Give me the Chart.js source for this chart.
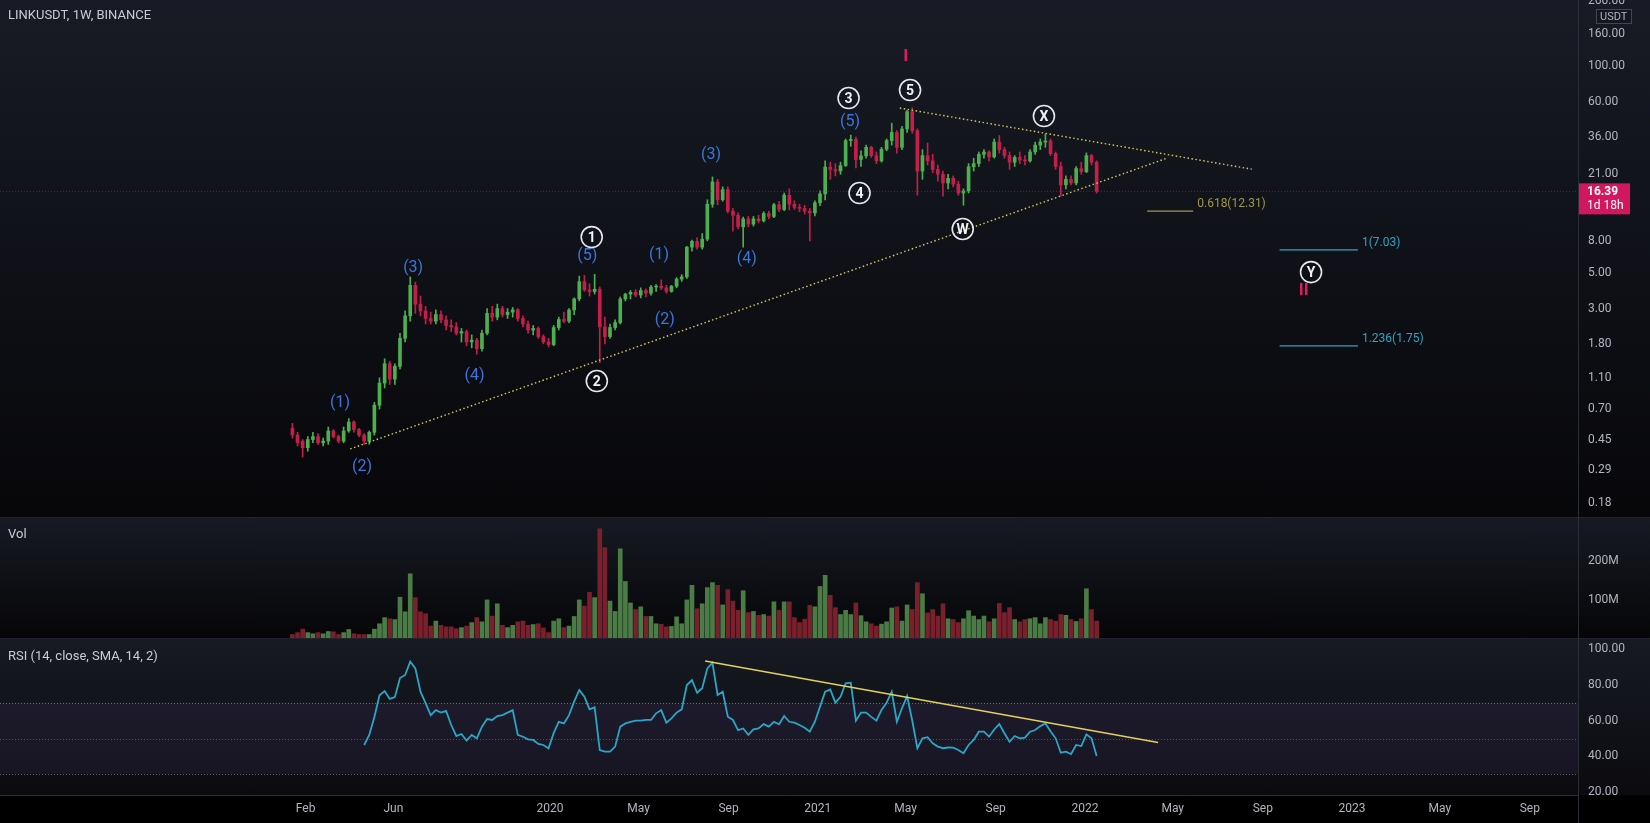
<!DOCTYPE html>
<html>
<head>
<meta charset="utf-8">
<title>LINKUSDT, 1W, BINANCE</title>
<script src="https://cdn.jsdelivr.net/npm/chart.js@4.4.1/dist/chart.umd.min.js"></script>
<style>
  html, body { margin: 0; padding: 0; background: #000; }
  #chart { position: relative; width: 1650px; height: 823px; overflow: hidden; background: #22252e; }
  .pane { position: absolute; left: 0; width: 1650px; }
  #pricePane { top: 0; height: 517px; background: linear-gradient(#181b25, #07070a); }
  #volPane { top: 518px; height: 120px; background: linear-gradient(#171a23, #060608); }
  #rsiPane { top: 639px; height: 184px; background: linear-gradient(#171a23 0, #0b0b0f 156px, #000 156px); }
  #axisLine { position: absolute; left: 1578px; top: 0; width: 1px; height: 823px; background: #2a2e39; }
  canvas { display: block; }
</style>
</head>
<body>
<div id="chart">
  <div class="pane" id="pricePane"><canvas id="priceCanvas" width="1650" height="517"></canvas></div>
  <div class="pane" id="volPane"><canvas id="volCanvas" width="1650" height="120"></canvas></div>
  <div class="pane" id="rsiPane"><canvas id="rsiCanvas" width="1650" height="184"></canvas></div>
  <div id="axisLine"></div>
</div>
<script>
/* ---------- data (weekly candles from the week of 2019-01-14) ---------- */
const firstWeek = '2019-01-14';

const opens = [
  .53,.48,.44,.40,.45,.47,.43,.44,.51,.47, .44,.51,.58,.52,.48,.44,.50,.74,1.02,1.35,
  1.08,1.30,1.95,2.70,4.20,3.20,2.90,2.60,2.50,2.75, 2.55,2.35,2.30,2.10,2.15,1.85,1.90,1.68,2.10,2.80,
  2.65,3.00,2.75,2.85,2.95,2.60,2.40,2.20,2.25,2.00, 1.85,1.78,2.28,2.56,2.50,2.94,3.45,4.43,3.93,3.84,
  3.97,2.30,2.00,2.28,2.45,3.45,3.70,3.80,3.65,3.90, 3.75,4.10,4.15,4.05,3.85,4.15,4.60,4.75,7.30,7.95,
  7.30,8.20,13.6,18.8,14.5,16.8,12.3,11.6,9.80,11.0, 10.2,11.0,10.7,11.9,11.4,13.5,12.6,15.5,13.6,13.0,
  12.8,12.3,12.0,13.9,15.8,23.3,22.5,22.0,23.8,34.2, 34.8,26.0,27.4,31.0,27.5,25.5,30.2,34.2,38.5,31.0,
  40.5,52.0,39.5,22.0,27.5,25.5,22.5,21.0,18.5,19.8, 18.2,16.0,16.5,23.4,24.5,28.0,29.0,27.0,33.5,30.0,
  27.5,25.0,26.8,25.8,25.5,29.0,32.0,33.5,34.0,28.3, 23.5,18.0,19.5,18.5,22.8,21.8,27.5,25.0
];
const highs = [
  .57,.50,.45,.47,.50,.49,.46,.54,.52,.48, .54,.61,.59,.53,.49,.51,.77,1.10,1.45,1.40,
  1.35,2.10,2.90,4.75,4.40,3.60,3.10,2.85,2.95,2.90, 2.70,2.55,2.45,2.25,2.20,2.05,1.95,2.20,3.00,3.10,
  3.20,3.10,3.00,3.05,3.00,2.70,2.50,2.35,2.30,2.05, 1.95,2.35,2.65,2.85,3.00,3.50,4.80,4.85,4.30,4.93,
  4.10,2.65,2.40,2.55,3.55,3.75,3.90,3.95,4.05,4.00, 4.20,4.25,4.55,4.20,4.20,4.70,4.90,7.40,8.10,8.40,
  8.90,14.5,20.2,19.5,17.5,17.5,12.8,12.0,11.3,11.4, 11.4,11.6,12.2,12.3,13.8,14.2,16.0,17.0,14.3,13.6,
  13.4,12.8,14.3,16.5,25.5,25.0,24.5,25.0,35.0,37.0, 36.0,29.5,32.0,31.5,29.0,31.0,35.0,44.0,39.5,42.0,
  53.0,55.0,40.5,30.0,33.0,28.0,24.0,22.0,21.0,20.5, 19.0,17.0,24.5,26.5,29.0,30.0,29.5,35.0,36.8,31.0,
  29.0,27.5,29.0,27.5,30.0,33.5,35.0,37.6,35.0,29.0, 25.0,20.5,20.5,23.5,25.0,28.6,28.0,25.5
];
const lows = [
  .46,.41,.35,.38,.43,.42,.41,.42,.46,.43, .43,.50,.50,.47,.42,.42,.48,.70,.95,1.00,
  1.00,1.25,1.85,2.50,2.80,2.70,2.40,2.40,2.40,2.45, 2.20,2.15,2.05,1.85,1.75,1.70,1.55,1.62,2.05,2.50,
  2.55,2.65,2.60,2.65,2.50,2.30,2.10,2.05,1.95,1.80, 1.72,1.75,2.20,2.45,2.45,2.75,3.35,3.85,3.60,3.70,
  1.37,1.80,1.95,2.20,2.40,3.35,3.45,3.55,3.50,3.55, 3.65,3.85,3.95,3.75,3.80,4.05,4.45,4.65,6.90,7.10,
  7.10,8.00,13.0,13.5,14.2,12.0,9.20,9.50,7.30,9.80, 9.90,10.4,10.5,11.0,11.2,12.2,12.4,12.5,12.6,12.2,
  11.8,8.00,11.5,13.3,14.5,19.5,20.5,21.0,23.5,31.5, 23.0,23.5,26.5,26.8,24.5,25.0,29.5,32.0,28.5,30.0,
  38.5,38.0,15.5,19.5,24.0,21.5,19.0,15.3,17.0,17.5, 15.5,13.4,16.0,22.0,23.5,26.5,25.5,26.5,28.5,26.5,
  22.5,23.5,24.5,24.0,25.0,28.0,30.0,31.0,27.5,22.5, 15.3,17.0,18.0,18.0,21.0,21.5,24.0,16.0
];
const closes = [
  .48,.43,.40,.45,.47,.43,.44,.51,.47,.44, .51,.58,.52,.48,.44,.50,.74,1.02,1.35,1.08,
  1.30,1.95,2.70,4.20,3.20,2.90,2.60,2.50,2.75,2.55, 2.35,2.30,2.10,2.15,1.85,1.90,1.68,2.10,2.80,2.65,
  3.00,2.75,2.85,2.95,2.60,2.40,2.20,2.25,2.00,1.85, 1.78,2.28,2.56,2.50,2.94,3.45,4.43,3.93,3.84,3.97,
  2.30,2.00,2.28,2.45,3.45,3.70,3.80,3.65,3.90,3.75, 4.10,4.15,4.05,3.85,4.15,4.60,4.75,7.30,7.95,7.30,
  8.20,13.6,18.8,14.5,16.8,12.3,11.6,9.80,11.0,10.2, 11.0,10.7,11.9,11.4,13.5,12.6,15.5,13.6,13.0,12.8,
  12.3,12.0,13.9,15.8,23.3,22.5,22.0,23.8,34.2,34.8, 26.0,27.4,31.0,27.5,25.5,30.2,34.2,38.5,31.0,40.5,
  52.0,39.5,22.0,27.5,25.5,22.5,21.0,18.5,19.8,18.2, 16.0,16.5,23.4,24.5,28.0,29.0,27.0,33.5,30.0,27.5,
  25.0,26.8,25.8,25.5,29.0,32.0,33.5,34.0,28.3,23.5, 18.0,19.5,18.5,22.8,21.8,27.5,25.0,16.39
];
// weekly volume, millions of USDT
const volumes = [
  9,14,23,14,11,14,11,17,16,9, 14,22,11,9,9,9,23,37,53,50,
  48,106,68,167,105,68,63,31,44,33, 29,29,24,27,31,40,53,42,99,57,
  89,33,27,33,42,44,33,35,37,26, 14,44,50,27,31,56,99,83,119,105,
  284,235,96,69,232,147,91,74,81,56, 56,37,36,29,30,55,37,99,137,76,
  89,131,144,137,86,126,96,72,123,66, 69,59,61,57,94,72,94,94,53,40,
  49,85,81,134,163,111,79,61,72,61, 91,58,42,37,31,36,42,78,81,44,
  86,74,144,115,65,74,57,89,50,48, 40,50,71,57,48,57,42,50,90,66,
  79,48,42,48,50,53,37,53,48,44, 61,59,48,43,50,128,74,44
];
const rsiStartWeek = 14;
const rsiValues = [
  46.4,52,62,74,76.4,72,73,83.6,85.3,92.7, 89,76,69.7,63,65.8,64.4,65.3,57.5,51.4,52.5,
  48.8,52,50.1,56.6,60.8,60.3,62.5,63,64.4,65.8, 52,51,49.5,49.2,47,46.4,44.5,53,59.3,58.4,
  63,70.5,77,73.2,66.2,67.3,43.6,42.7,42.7,45.5, 56.6,58.4,59.3,59.9,59.9,60.3,60.3,64,65.8,58.8,
  61.2,64.4,66.2,79.7,82.5,75.4,77.9,89,92.1,74.2, 76,62.1,60.3,54.7,55.6,52,55.1,55.6,58,56.6,
  59.3,57.9,62.5,59.3,58.8,57.5,56,53.8,59.3,67.7, 76,77.3,69.9,73.2,80.7,81,59.9,64.4,64.4,62,
  59.9,65.8,69.9,76,59.3,66.8,73.6,60,44.6,50.1, 50.7,47.3,45.5,44.6,45,44.9,43.6,41.8,46.4,49.2,
  53.8,53.8,51,55,58,52.9,48.2,51.4,50.1,50.5, 53.8,54.7,56.9,58.4,54,50.1,42.1,42.7,41.4,46.4,
  45.8,52.3,50.1,40.3
];

const priceTicks = [260, 160, 100, 60, 36, 21, 8, 5, 3, 1.8, 1.1, 0.7, 0.45, 0.29, 0.18];
const volumeTicks = [100, 200];
const rsiTicks = [100, 80, 60, 40, 20];
const timeLabels = [
  ['2019-02-01', 'Feb'], ['2019-06-01', 'Jun'], ['2020-01-01', '2020'], ['2020-05-01', 'May'],
  ['2020-09-01', 'Sep'], ['2021-01-01', '2021'], ['2021-05-01', 'May'], ['2021-09-01', 'Sep'],
  ['2022-01-01', '2022'], ['2022-05-01', 'May'], ['2022-09-01', 'Sep'], ['2023-01-01', '2023'],
  ['2023-05-01', 'May'], ['2023-09-01', 'Sep']
];

// drawings: trend lines [date, value]
const supportLine = [['2019-04-03', 0.393], ['2022-04-23', 26.5]];
const resistanceLine = [['2021-04-23', 54.8], ['2022-08-17', 22.6]];
const rsiTrendLine = [['2020-07-31', 93.1], ['2022-04-11', 47.8]];

const fibLevels = [
  { from: '2022-03-27', to: '2022-05-29', price: 12.31, text: '0.618(12.31)', color: '#a0974a' },
  { from: '2022-09-24', to: '2023-01-09', price: 7.03, text: '1(7.03)', color: '#28a6c6' },
  { from: '2022-09-24', to: '2023-01-09', price: 1.75, text: '1.236(1.75)', color: '#28a6c6' }
];

// Elliott wave marks: [date, price, text, style]
const waveLabels = [
  ['2019-03-20', 0.764, '(1)', 'minor'],
  ['2019-04-19', 0.303, '(2)', 'minor'],
  ['2019-06-28', 5.40, '(3)', 'minor'],
  ['2019-09-20', 1.13, '(4)', 'minor'],
  ['2020-02-21', 6.43, '(5)', 'minor'],
  ['2020-02-27', 8.45, '1', 'circle'],
  ['2020-03-05', 1.05, '2', 'circle'],
  ['2020-05-29', 6.52, '(1)', 'minor'],
  ['2020-06-06', 2.54, '(2)', 'minor'],
  ['2020-08-08', 27.7, '(3)', 'minor'],
  ['2020-09-26', 6.15, '(4)', 'minor'],
  ['2021-02-14', 44.7, '(5)', 'minor'],
  ['2021-02-12', 63.3, '3', 'circle'],
  ['2021-02-27', 16.0, '4', 'circle'],
  ['2021-05-07', 71.1, '5', 'circle'],
  ['2021-05-01', 114.6, 'I', 'roman'],
  ['2021-07-18', 9.5, 'W', 'circle'],
  ['2021-11-06', 48.8, 'X', 'circle'],
  ['2022-11-06', 5.09, 'Y', 'circle'],
  ['2022-10-27', 3.87, 'II', 'roman']
];

/* ---------- helpers ---------- */
const EPOCH = Date.UTC(2020, 0, 1);
const dayOf = s => (Date.parse(s) - EPOCH) / 86400000;
const weekX = i => dayOf(firstWeek) + 7 * i;
const X_MIN = -751.6, X_MAX = 1404.8;   // visible time range, days from 2020-01-01

const UP = '#4caf50', DOWN = '#c41e4a';
const VOL_UP = '#4b7c45', VOL_DOWN = '#7a1f2c';
const FONT = "Roboto, 'Open Sans', sans-serif";
const lastClose = closes[closes.length - 1];
const isUp = closes.map((c, i) => c >= opens[i]);

Chart.defaults.font.family = FONT;
Chart.defaults.font.size = 12;
Chart.defaults.color = '#b2b5be';
Chart.defaults.animation = false;

function timeAxis(show) {
  return {
    type: 'linear', min: X_MIN, max: X_MAX, offset: false, display: show,
    grid: { display: false, drawTicks: false },
    border: { display: show, color: '#2a2e39' },
    afterBuildTicks: s => { s.ticks = timeLabels.map(t => ({ value: dayOf(t[0]) })); },
    ticks: { autoSkip: false, maxRotation: 0, padding: 7, color: '#b2b5be',
      callback: (v, i) => timeLabels[i][1] },
    afterFit: s => { s.height = show ? 28 : 0; s.paddingLeft = 0; s.paddingRight = 0; }
  };
}

function rightAxis(opts) {
  return Object.assign({
    position: 'right',
    grid: { display: false, drawTicks: false },
    border: { display: false },
    afterFit: s => { s.width = 72; s.paddingTop = 0; s.paddingBottom = 0; }
  }, opts);
}

function lineSet(points, color, dash, width) {
  return {
    type: 'line',
    data: points.map(p => ({ x: typeof p[0] === 'number' ? p[0] : dayOf(p[0]), y: p[1] })),
    borderColor: color, borderWidth: width || 1, borderDash: dash || [],
    pointRadius: 0, fill: false, order: 0
  };
}

/* ---------- price pane ---------- */
const pricePlugin = {
  id: 'priceOverlay',
  afterDatasetsDraw(chart) {
    const { ctx, scales: { x, y } } = chart;
    ctx.save();
    ctx.textAlign = 'left';
    ctx.textBaseline = 'middle';
    ctx.font = '12px ' + FONT;
    fibLevels.forEach(f => {
      ctx.fillStyle = f.color;
      ctx.fillText(f.text, x.getPixelForValue(dayOf(f.to)) + 4, y.getPixelForValue(f.price) - 7);
    });
    ctx.textAlign = 'center';
    waveLabels.forEach(([d, p, text, style]) => {
      const px = x.getPixelForValue(dayOf(d));
      const py = y.getPixelForValue(p);
      if (style === 'circle') {
        ctx.beginPath();
        ctx.arc(px, py, 10.5, 0, Math.PI * 2);
        ctx.lineWidth = 1.6;
        ctx.strokeStyle = '#e6e8ee';
        ctx.stroke();
        ctx.fillStyle = '#f0f2f5';
        ctx.font = 'bold 14px ' + FONT;
        ctx.fillText(text, px, py + 1);
      } else if (style === 'minor') {
        ctx.fillStyle = '#3a76dd';
        ctx.font = '16px ' + FONT;
        ctx.fillText(text, px, py);
      } else {
        ctx.fillStyle = '#e3195e';
        ctx.font = 'bold 17px ' + FONT;
        ctx.fillText(text, px, py);
      }
    });
    ctx.restore();
  },
  afterDraw(chart) {
    const { ctx, chartArea, scales: { y } } = chart;
    ctx.save();
    // title
    ctx.font = '13px ' + FONT;
    ctx.fillStyle = '#c9ccd4';
    ctx.textAlign = 'left';
    ctx.textBaseline = 'middle';
    ctx.fillText('LINKUSDT, 1W, BINANCE', 8, 16);
    // currency box
    ctx.fillStyle = '#131722';
    ctx.fillRect(1596.5, 9.5, 35, 14);
    ctx.strokeStyle = '#434651';
    ctx.lineWidth = 1;
    ctx.strokeRect(1596.5, 9.5, 35, 14);
    ctx.font = '11px ' + FONT;
    ctx.fillStyle = '#b2b5be';
    ctx.fillText('USDT', 1600, 17);
    // last price tag
    const py = y.getPixelForValue(lastClose);
    ctx.fillStyle = '#d3175f';
    ctx.fillRect(chartArea.right, py - 8, 52, 31);
    ctx.fillStyle = '#ffffff';
    ctx.font = 'bold 12px ' + FONT;
    ctx.fillText(lastClose.toFixed(2), chartArea.right + 9, py + 1);
    ctx.font = '12px ' + FONT;
    ctx.fillText('1d 18h', chartArea.right + 9, py + 15);
    ctx.restore();
  }
};

new Chart(document.getElementById('priceCanvas'), {
  type: 'bar',
  data: {
    datasets: [
      {
        data: highs.map((h, i) => ({ x: weekX(i), y: [lows[i], h] })),
        backgroundColor: isUp.map(u => u ? UP : DOWN),
        barThickness: 1, grouped: false, order: 3
      },
      {
        data: opens.map((o, i) => ({ x: weekX(i), y: [o, closes[i]] })),
        backgroundColor: isUp.map(u => u ? UP : DOWN),
        barThickness: 3, minBarLength: 1, grouped: false, order: 2
      },
      lineSet([[X_MIN, lastClose], [X_MAX, lastClose]], 'rgba(211,23,95,0.55)', [1, 2], 1),
      lineSet(supportLine, '#d8c95a', [1.5, 2.5], 1.4),
      lineSet(resistanceLine, '#d8c95a', [1.5, 2.5], 1.4),
      ...fibLevels.map(f => lineSet([[f.from, f.price], [f.to, f.price]], f.color, [], 1.2))
    ]
  },
  options: {
    responsive: false, devicePixelRatio: 1,
    layout: { padding: 0 },
    plugins: { legend: { display: false }, tooltip: { enabled: false } },
    scales: {
      x: timeAxis(false),
      y: rightAxis({
        type: 'logarithmic', min: 0.1466, max: 262,
        afterBuildTicks: s => { s.ticks = priceTicks.map(v => ({ value: v })); },
        ticks: { autoSkip: false, padding: 10, color: '#b2b5be', callback: v => Number(v).toFixed(2) }
      })
    }
  },
  plugins: [pricePlugin]
});

/* ---------- volume pane ---------- */
new Chart(document.getElementById('volCanvas'), {
  type: 'bar',
  data: {
    datasets: [{
      data: volumes.map((v, i) => ({ x: weekX(i), y: v })),
      backgroundColor: isUp.map(u => u ? VOL_UP : VOL_DOWN),
      barThickness: 4, grouped: false
    }]
  },
  options: {
    responsive: false, devicePixelRatio: 1,
    layout: { padding: 0 },
    plugins: { legend: { display: false }, tooltip: { enabled: false } },
    scales: {
      x: timeAxis(false),
      y: rightAxis({
        type: 'linear', min: 0, max: 312,
        afterBuildTicks: s => { s.ticks = volumeTicks.map(v => ({ value: v })); },
        ticks: { autoSkip: false, padding: 10, color: '#b2b5be', callback: v => v + 'M' }
      })
    }
  },
  plugins: [{
    id: 'volTitle',
    afterDraw(chart) {
      const ctx = chart.ctx;
      ctx.save();
      ctx.font = '13px ' + FONT;
      ctx.fillStyle = '#c9ccd4';
      ctx.textBaseline = 'middle';
      ctx.fillText('Vol', 8, 17);
      ctx.restore();
    }
  }]
});

/* ---------- RSI pane ---------- */
new Chart(document.getElementById('rsiCanvas'), {
  type: 'line',
  data: {
    datasets: [
      {
        data: rsiValues.map((v, i) => ({ x: weekX(i + rsiStartWeek), y: v })),
        borderColor: '#2ba6c6', borderWidth: 1.8, pointRadius: 0, tension: 0, order: 1
      },
      lineSet(rsiTrendLine, '#e2d15c', [], 1.4)
    ]
  },
  options: {
    responsive: false, devicePixelRatio: 1,
    layout: { padding: 0 },
    plugins: { legend: { display: false }, tooltip: { enabled: false } },
    scales: {
      x: timeAxis(true),
      y: rightAxis({
        type: 'linear', min: 18.6, max: 105.3,
        afterBuildTicks: s => { s.ticks = rsiTicks.map(v => ({ value: v })); },
        ticks: { autoSkip: false, padding: 10, color: '#b2b5be', callback: v => Number(v).toFixed(2) }
      })
    }
  },
  plugins: [{
    id: 'rsiBands',
    beforeDatasetsDraw(chart) {
      const { ctx, chartArea: a, scales: { y } } = chart;
      const y70 = y.getPixelForValue(70), y50 = y.getPixelForValue(50), y30 = y.getPixelForValue(30);
      ctx.save();
      ctx.fillStyle = 'rgba(126, 87, 194, 0.10)';
      ctx.fillRect(a.left, y70, a.right - a.left, y30 - y70);
      ctx.setLineDash([1, 2]);
      ctx.lineWidth = 1;
      [[y70, 'rgba(150,110,150,0.75)'], [y50, 'rgba(120,123,134,0.6)'], [y30, 'rgba(120,123,134,0.75)']]
        .forEach(([yy, c]) => {
          ctx.strokeStyle = c;
          ctx.beginPath();
          ctx.moveTo(a.left, Math.round(yy) + 0.5);
          ctx.lineTo(a.right, Math.round(yy) + 0.5);
          ctx.stroke();
        });
      ctx.restore();
    },
    afterDraw(chart) {
      const ctx = chart.ctx;
      ctx.save();
      ctx.font = '13px ' + FONT;
      ctx.fillStyle = '#c9ccd4';
      ctx.textBaseline = 'middle';
      ctx.fillText('RSI (14, close, SMA, 14, 2)', 8, 18);
      ctx.restore();
    }
  }]
});
</script>
</body>
</html>
